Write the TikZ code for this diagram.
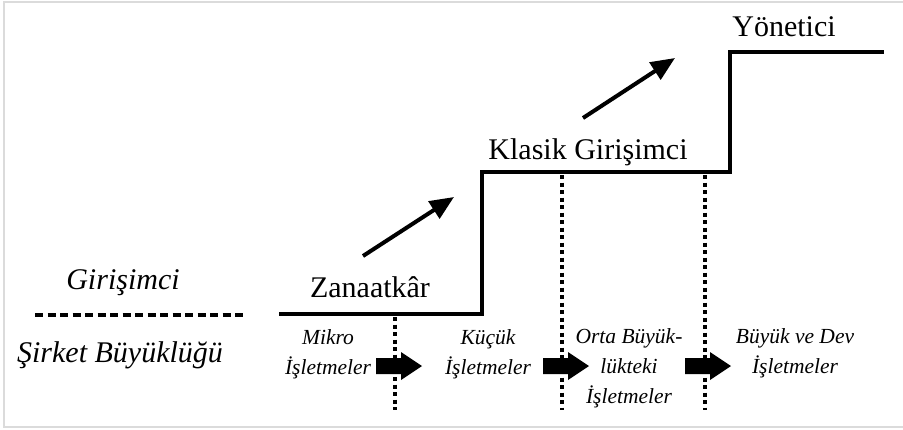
\documentclass[tikz,border=0pt]{standalone}
\usepackage{fontspec}
\setmainfont{Liberation Serif}
\usetikzlibrary{arrows.meta}
\tikzset{
  big/.style={font=\fontsize{30}{32}\selectfont, inner sep=0pt},
  bigit/.style={font=\fontsize{30}{32}\selectfont\itshape, inner sep=0pt},
  small/.style={font=\fontsize{21.5}{30}\selectfont\itshape, inner sep=0pt, align=center},
  stairline/.style={line width=4pt, line join=miter},
  divider/.style={line width=4.5pt, dash pattern=on 4pt off 3.5pt},
  rise/.style={line width=4pt, -{Triangle[length=24pt,width=20pt]}},
  blockarr/.pic={\fill (-23,-8) -- (2,-8) -- (2,-14) -- (23,0) -- (2,14) -- (2,8) -- (-23,8) -- cycle;}
}
\begin{document}
\begin{tikzpicture}[x=1pt, y=-1pt]
\useasboundingbox (0,0) rectangle (903,429);
% light frame
\draw[black!14, line width=1.5pt] (905,2) -- (4,2) -- (4,427) -- (905,427);

% staircase
\coordinate (s0) at (279,314);
\coordinate (s1) at (482,314);
\coordinate (s2) at (482,172);
\coordinate (s3) at (730,172);
\coordinate (s4) at (730,52);
\coordinate (s5) at (884,52);
\draw[stairline] (s0) -- (s1) -- (s2) -- (s3) -- (s4) -- (s5);

% dotted size boundaries
\coordinate (d1t) at (395,317);
\coordinate (d1b) at (395,410);
\coordinate (d2t) at (562,175);
\coordinate (d2b) at (562,410);
\coordinate (d3t) at (705,175);
\coordinate (d3b) at (705,410);
\draw[divider] (d1t) -- (d1b);
\draw[divider] (d2t) -- (d2b);
\draw[divider] (d3t) -- (d3b);

% rising arrows
\coordinate (r1a) at (363,256);
\coordinate (r1b) at (454,197);
\coordinate (r2a) at (583,118);
\coordinate (r2b) at (675,58);
\draw[rise] (r1a) -- (r1b);
\draw[rise] (r2a) -- (r2b);

% stage labels
\node[big] (zan) at (370,287) {Zanaatkâr};
\node[big] (kla) at (588,152) {Klasik Girişimci};
\node[big] (yon) at (784,27) {Yönetici};

% left legend
\node[bigit] (gir) at (123,283) {Girişimci};
\coordinate (l1) at (35,315);
\coordinate (l2) at (246,315);
\draw[line width=3.5pt, dash pattern=on 8pt off 4.5pt] (l1) -- (l2);
\node[bigit] (sir) at (120,355) {Şirket Büyüklüğü};

% company sizes
\node[small] (mik) at (328,354) {Mikro\\İşletmeler};
\node[small] (kuc) at (488,354) {Küçük\\İşletmeler};
\node[small] (ort) at (629,368) {Orta Büyük-\\lükteki\\İşletmeler};
\node[small] (buy) at (795,353) {Büyük ve Dev\\İşletmeler};

% block arrows between sizes
\pic at (399,366) {blockarr};
\pic at (566,366) {blockarr};
\pic at (708,366) {blockarr};
\end{tikzpicture}
\end{document}
